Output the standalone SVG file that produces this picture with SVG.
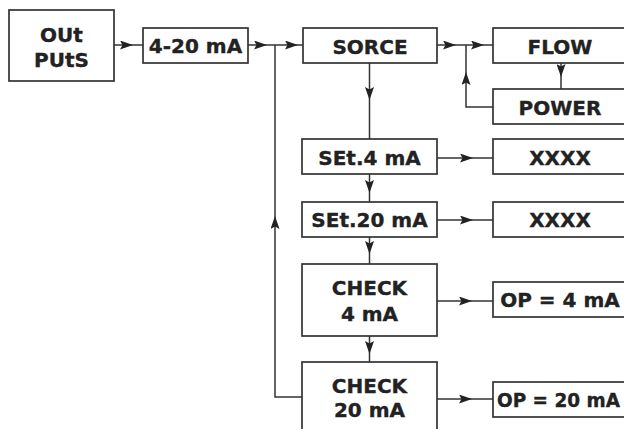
<svg xmlns="http://www.w3.org/2000/svg" width="624" height="429" viewBox="0 0 624 429">
<defs>
<marker id="ah" viewBox="0 0 13 9" refX="13" refY="4.5" markerWidth="13" markerHeight="9" markerUnits="userSpaceOnUse" orient="auto">
<path d="M0,0 L13,4.5 L0,9 L2.5,4.5 Z" fill="#222"/>
</marker>
<style>
.box{fill:#fff;stroke:#333;stroke-width:1.7}
.t{font-family:"DejaVu Sans",Verdana,sans-serif;font-weight:bold;font-size:20px;fill:#222;stroke:#222;stroke-width:0.35;text-anchor:middle}
.c{fill:none;stroke:#333;stroke-width:1.5}
.a{fill:none;stroke:#333;stroke-width:1.5;marker-end:url(#ah)}
</style>
</defs>
<rect width="624" height="429" fill="#fff"/>
<g id="connectors">
<path class="a" d="M114,45 H133"/><path class="c" d="M133,45 H143"/>
<path class="a" d="M248,45 H267"/><path class="a" d="M267,45 H298"/><path class="c" d="M298,45 H303"/>
<path class="a" d="M437,45 H456"/><path class="a" d="M456,45 H484"/><path class="c" d="M484,45 H493"/>
<path class="c" d="M493,107 H466 V82"/><path class="a" d="M466,82 V72"/><path class="c" d="M466,72 V45"/>
<path class="a" d="M561,63 V77"/><path class="c" d="M561,77 V89"/>
<path class="a" d="M369.5,63 V100"/><path class="c" d="M369.5,100 V139"/>
<path class="a" d="M437,158 H473"/><path class="c" d="M473,158 H493"/>
<path class="a" d="M369.5,174 V193"/><path class="c" d="M369.5,193 V202"/>
<path class="a" d="M437,220 H473"/><path class="c" d="M473,220 H493"/>
<path class="a" d="M369.5,237 V254"/><path class="c" d="M369.5,254 V264"/>
<path class="a" d="M437,301 H472"/><path class="c" d="M472,301 H493"/>
<path class="a" d="M369.5,336 V354"/><path class="c" d="M369.5,354 V362"/>
<path class="a" d="M437,399 H472"/><path class="c" d="M472,399 H493"/>
<path class="c" d="M302,397 H275 V226"/><path class="a" d="M275,226 V216"/><path class="c" d="M275,216 V45"/>
</g>
<g id="outputs"><rect class="box" x="9" y="10" width="105" height="71"/><text class="t" x="61.5" y="42">OUt</text><text class="t" x="61.5" y="67">PUtS</text></g>
<g id="ma420"><rect class="box" x="143" y="28" width="105" height="35"/><text class="t" x="195.5" y="53">4-20 mA</text></g>
<g id="sorce"><rect class="box" x="303" y="28" width="134" height="35"/><text class="t" x="370" y="54">SORCE</text></g>
<g id="flow"><rect class="box" x="493" y="28" width="134" height="35"/><text class="t" x="560" y="54">FLOW</text></g>
<g id="power"><rect class="box" x="493" y="89" width="134" height="35"/><text class="t" x="560" y="115">POWER</text></g>
<g id="set4"><rect class="box" x="302" y="139" width="135" height="35"/><text class="t" x="369.5" y="165">SEt.4 mA</text></g>
<g id="xxxx1"><rect class="box" x="493" y="139" width="134" height="35"/><text class="t" x="560" y="165">XXXX</text></g>
<g id="set20"><rect class="box" x="302" y="202" width="135" height="35"/><text class="t" x="369.5" y="227">SEt.20 mA</text></g>
<g id="xxxx2"><rect class="box" x="493" y="202" width="134" height="35"/><text class="t" x="560" y="227">XXXX</text></g>
<g id="check4"><rect class="box" x="302" y="264" width="135" height="72"/><text class="t" x="369.5" y="295">CHECK</text><text class="t" x="369.5" y="321">4 mA</text></g>
<g id="op4"><rect class="box" x="493" y="282" width="134" height="35"/><text class="t" x="560" y="307">OP = 4 mA</text></g>
<g id="check20"><rect class="box" x="302" y="362" width="135" height="72"/><text class="t" x="369.5" y="393">CHECK</text><text class="t" x="369.5" y="417">20 mA</text></g>
<g id="op20"><rect class="box" x="493" y="382" width="134" height="35"/><text class="t" x="558.5" y="407" style="font-size:19px" textLength="123" lengthAdjust="spacingAndGlyphs">OP = 20 mA</text></g>
</svg>
